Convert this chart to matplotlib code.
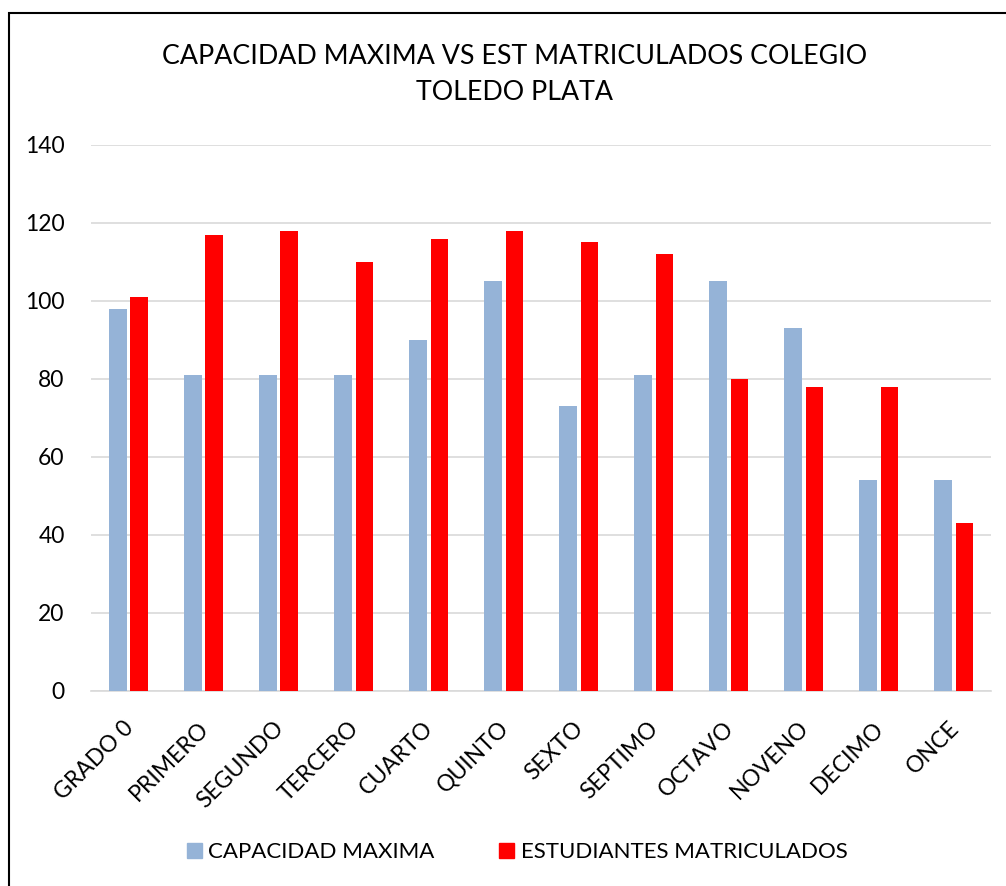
import numpy as np
import matplotlib.pyplot as plt
import matplotlib.transforms as mtransforms
from matplotlib.patches import Rectangle, Patch

plt.rcParams['font.family'] = ['Lato', 'DejaVu Sans']

grados = ['GRADO 0', 'PRIMERO', 'SEGUNDO', 'TERCERO', 'CUARTO', 'QUINTO',
          'SEXTO', 'SEPTIMO', 'OCTAVO', 'NOVENO', 'DECIMO', 'ONCE']
capacidad = [98, 81, 81, 81, 90, 105, 73, 81, 105, 93, 54, 54]
matriculados = [101, 117, 118, 110, 116, 118, 115, 112, 80, 78, 78, 43]

azul = '#95B3D7'
rojo = '#FF0000'

fig = plt.figure(figsize=(10.06, 8.86), dpi=100)
ax = fig.add_axes([0.0905, 0.2201, 0.895, 0.6163])

x = np.arange(len(grados))
w = 0.235
ax.bar(x - 0.025 - w / 2, capacidad, w, color=azul, zorder=3)
ax.bar(x + 0.025 + w / 2, matriculados, w, color=rojo, zorder=3)

ax.set_xlim(-0.5, len(grados) - 0.5)
ax.set_ylim(0, 140)
ax.set_yticks(range(0, 141, 20))
ax.yaxis.grid(True, color='#D9D9D9', linewidth=1.2, zorder=0)
for s in ['top', 'right', 'left']:
    ax.spines[s].set_visible(False)
ax.spines['bottom'].set_color('#D9D9D9')
ax.spines['bottom'].set_linewidth(1.2)
ax.tick_params(axis='both', length=0, labelsize=16.5, colors='black')
ax.tick_params(axis='y', pad=19)
ax.set_xticks(x)
ax.set_xticklabels(grados, rotation=45, ha='right', rotation_mode='anchor')
ax.tick_params(axis='x', pad=19)
# correr las etiquetas un poco a la izquierda
desplaza = mtransforms.ScaledTranslation(-6 / 100, 0, fig.dpi_scale_trans)
for lbl in ax.get_xticklabels():
    lbl.set_transform(lbl.get_transform() + desplaza)

fig.text(0.511, 1 - 75 / 886, 'CAPACIDAD MAXIMA VS EST MATRICULADOS COLEGIO\nTOLEDO PLATA',
         ha='center', va='center', fontsize=19.3, linespacing=1.55)

handles = [Patch(color=azul, label='CAPACIDAD MAXIMA'),
           Patch(color=rojo, label='ESTUDIANTES MATRICULADOS')]
fig.legend(handles=handles, loc='center', bbox_to_anchor=(0.514, 1 - 852 / 886),
           ncol=2, frameon=False, fontsize=16, handlelength=0.68,
           handleheight=0.68, handletextpad=0.3, columnspacing=2.9)

fig.patches.append(Rectangle((0.0085, -0.1), 1.5, 0.1 + 0.9853, transform=fig.transFigure,
                             fill=False, edgecolor='black', linewidth=1.5))

fig.savefig('out.png', dpi=100)
